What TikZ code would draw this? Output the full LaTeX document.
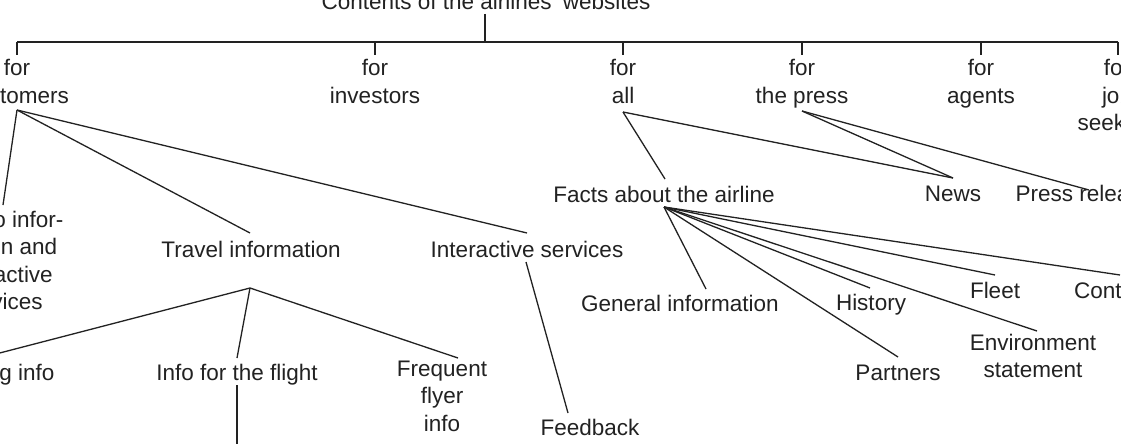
\documentclass[tikz,border=0pt]{standalone}
\usepackage{fontspec}
\setmainfont{Liberation Sans}
\definecolor{ink}{HTML}{222222}
\begin{document}
\begin{tikzpicture}[x=1pt,y=-1pt,
  lbl/.style={anchor=north,inner sep=0pt,align=center,text=ink,
    font=\fontsize{22.5}{27.5}\selectfont,execute at begin node=\strut},
  edge/.style={draw=ink,line width=1.3pt},
  bar/.style={draw=ink,line width=1.7pt},
  tick/.style={draw=ink,line width=1.2pt}]
\useasboundingbox (0,0) rectangle (1121,444);
\clip (0,0) rectangle (1121,444);
\fill[white] (0,0) rectangle (1121,444);
% text nodes (anchor north = first baseline - 19.25)
\node[lbl] (title) at (486,-10.25) {Contents of the airlines' websites};
\node[lbl] (cus) at (17,59.25) {for\\customers};
\node[lbl] (inv) at (375,59.25) {for\\investors};
\node[lbl] (all) at (623,59.25) {for\\all};
\node[lbl] (prs) at (802,59.25) {for\\the press};
\node[lbl] (agt) at (981,59.25) {for\\agents};
\node[lbl] (job) at (1117,59.25) {for\\job\\seekers};
\node[lbl] (promo) at (1.5,210.75) {Promo infor-\\mation and\\interactive\\services};
\node[lbl] (trav) at (251,237.75) {Travel information};
\node[lbl] (inter) at (527,237.75) {Interactive services};
\node[lbl] (book) at (-7.5,360.75) {Booking info};
\node[lbl] (flight) at (237,360.75) {Info for the flight};
\node[lbl] (freq) at (442,360.75) {Frequent\\flyer\\info};
\node[lbl] (fb) at (590,415.75) {Feedback};
\node[lbl] (facts) at (664,182.75) {Facts about the airline};
\node[lbl] (news) at (953,181.75) {News};
\node[lbl] (prel) at (1090,181.75) {Press releases};
\node[lbl] (gen) at (680,291.75) {General information};
\node[lbl] (hist) at (871,290.75) {History};
\node[lbl] (fleet) at (995,278.75) {Fleet};
\node[lbl] (cont) at (1118.5,278.75) {Contacts};
\node[lbl] (env) at (1033,333.75) {Environment\\statement};
\node[lbl] (part) at (898,360.75) {Partners};
% connector end points
\coordinate (titleB) at (485,14);
\coordinate (barM) at (485,42);
\coordinate (barL) at (17,42);
\coordinate (barR) at (1118,42);
\coordinate (cusT) at (17,55);
\coordinate (invT) at (375,55);
\coordinate (allT) at (623,55);
\coordinate (prsT) at (802,55);
\coordinate (agtT) at (981,55);
\coordinate (jobT) at (1118,55);
\coordinate (cusB) at (17,110);
\coordinate (promoT) at (3,205);
\coordinate (travT) at (250,233);
\coordinate (interT) at (527,233);
\coordinate (travB) at (250,288);
\coordinate (bookT) at (-8,355);
\coordinate (flightT) at (237,358);
\coordinate (freqT) at (458,358);
\coordinate (flightB) at (237,385);
\coordinate (flightC) at (237,460);
\coordinate (interB) at (526,262);
\coordinate (fbT) at (568,413);
\coordinate (allB) at (623,112);
\coordinate (factsT) at (665,179);
\coordinate (newsT) at (953,178);
\coordinate (prsB) at (802,111);
\coordinate (prelT) at (1089,190);
\coordinate (factsB) at (664,207);
\coordinate (genT) at (706,289);
\coordinate (histT) at (870,288);
\coordinate (partT) at (898,357);
\coordinate (fleetT) at (995,275);
\coordinate (envT) at (1037,331);
\coordinate (contT) at (1120,275);
% top bar
\draw[bar] (barL) -- (barR);
\draw[bar] (titleB) -- (barM);
\foreach \t in {cusT,invT,allT,prsT,agtT,jobT}{
  \draw[tick] (\t |- barL) -- (\t);
}
% tree edges
\draw[edge] (cusB) -- (promoT);
\draw[edge] (cusB) -- (travT);
\draw[edge] (cusB) -- (interT);
\draw[edge] (travB) -- (bookT);
\draw[edge] (travB) -- (flightT);
\draw[edge] (travB) -- (freqT);
\draw[edge] (flightB) -- (flightC);
\draw[edge] (interB) -- (fbT);
\draw[edge] (allB) -- (factsT);
\draw[edge] (allB) -- (newsT);
\draw[edge] (prsB) -- (newsT);
\draw[edge] (prsB) -- (prelT);
\foreach \t in {genT,histT,partT,fleetT,envT,contT}{
  \draw[edge] (factsB) -- (\t);
}
\end{tikzpicture}
\end{document}
